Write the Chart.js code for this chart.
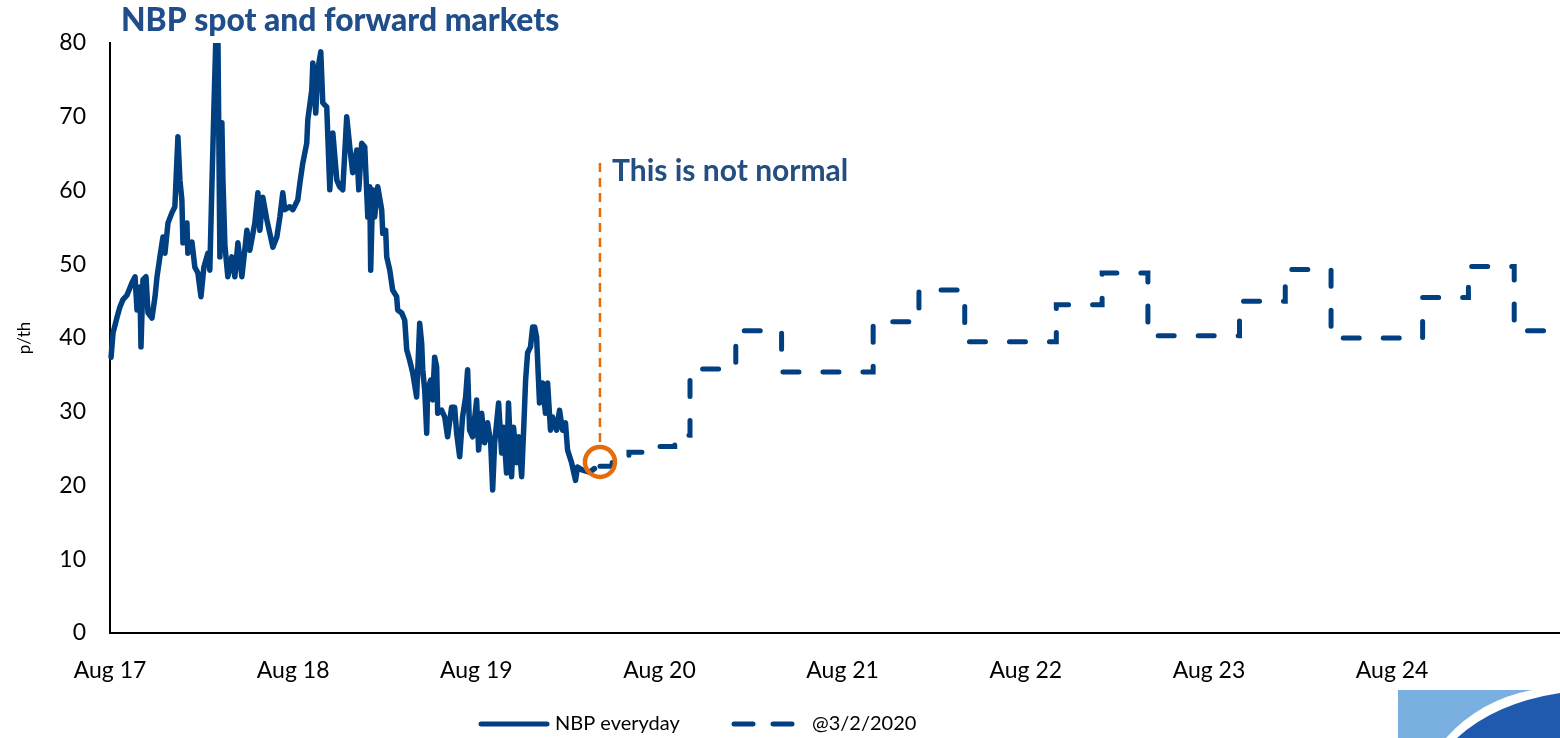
<!DOCTYPE html>
<html>
<head>
<meta charset="utf-8">
<script src="https://cdn.jsdelivr.net/npm/chart.js@4.4.1/dist/chart.umd.min.js"></script>
<style>
html,body{margin:0;padding:0;background:#fff;}
#wrap{position:relative;width:1560px;height:738px;}
</style>
</head>
<body>
<div id="wrap"><canvas id="c" width="1560" height="738"></canvas></div>
<script>
// ---- data (x = months since Aug 2017) ----
const xTickValues = [0, 12, 24, 36, 48, 60, 72, 84];
const xTickLabels = ['Aug 17', 'Aug 18', 'Aug 19', 'Aug 20', 'Aug 21', 'Aug 22', 'Aug 23', 'Aug 24'];
const yTickStep = 10;
const seriesNames = ['NBP everyday', '@3/2/2020'];
const titleText = 'NBP spot and forward markets';
const noteText = 'This is not normal';
const yTitleText = 'p/th';

const spotX = [0.07,0.20,0.46,0.65,0.85,1.11,1.44,1.64,1.77,1.96,2.03,2.16,2.36,2.49,2.75,2.95,3.08,3.27,3.47,3.60,
  3.80,4.06,4.25,4.45,4.58,4.71,4.78,5.04,5.10,5.37,5.56,5.76,5.96,6.15,6.41,6.54,6.68,6.81,6.94,7.07,
  7.20,7.33,7.40,7.53,7.72,7.98,8.18,8.38,8.64,8.97,9.16,9.49,9.69,9.82,10.01,10.28,10.47,10.67,10.93,11.13,
  11.32,11.45,11.78,11.98,12.30,12.44,12.63,12.89,12.96,13.22,13.29,13.48,13.61,13.81,13.94,14.20,14.40,14.60,14.86,15.05,
  15.25,15.51,15.71,15.90,16.17,16.30,16.49,16.69,16.89,17.02,17.08,17.21,17.34,17.54,17.80,17.87,18.06,18.13,18.33,18.52,
  18.78,18.85,19.11,19.31,19.44,19.63,19.83,20.09,20.29,20.42,20.49,20.62,20.75,20.81,21.01,21.14,21.27,21.40,21.47,21.73,
  21.93,22.12,22.38,22.58,22.71,22.91,23.10,23.30,23.43,23.56,23.76,24.02,24.15,24.35,24.54,24.74,24.94,25.07,25.20,25.33,
  25.46,25.66,25.79,25.98,26.11,26.31,26.44,26.64,26.77,26.97,27.10,27.23,27.36,27.55,27.69,27.82,27.95,28.14,28.34,28.53,
  28.67,28.86,28.99,29.26,29.45,29.65,29.84,29.98,30.24,30.50,30.63,30.96,31.42,31.74];
const spotY = [37.4,40.7,42.8,44.2,45.2,45.8,47.5,48.3,43.8,46.9,38.8,47.9,48.3,43.4,42.7,45.6,48.3,51.0,53.7,51.5,
  55.6,57.0,57.8,67.3,61.4,58.7,52.9,55.6,51.5,53.0,49.6,48.8,45.6,49.6,51.5,49.2,61.0,71.3,81.0,81.0,
  51.0,69.2,61.4,52.5,48.3,51.0,48.3,52.9,48.3,54.6,51.9,55.6,59.7,54.6,59.1,56.0,54.2,52.3,53.7,56.4,
  59.7,57.4,57.8,57.4,58.7,61.0,63.7,66.4,69.6,73.6,77.3,70.5,76.3,78.8,71.9,71.3,60.1,67.8,61.4,60.5,
  60.1,70.0,65.9,62.4,65.5,60.1,66.4,65.9,56.4,60.5,49.2,60.1,56.4,60.5,57.4,54.2,54.6,51.0,49.2,46.5,
  45.6,43.8,43.4,42.4,38.4,37.0,35.3,32.0,42.0,39.3,35.7,32.9,27.1,32.9,34.3,31.6,37.4,36.1,29.8,30.2,
  29.3,26.6,30.6,30.6,27.1,23.9,29.3,32.0,35.7,27.5,26.6,31.6,24.8,29.8,25.8,28.5,25.8,19.4,25.8,28.5,
  31.2,24.4,27.9,21.7,31.2,21.2,27.9,23.1,26.6,21.2,27.5,34.3,38.0,38.8,41.5,41.5,40.1,31.2,33.9,29.8,
  33.9,27.5,29.3,27.5,30.2,27.5,28.5,24.8,23.1,20.7,22.5,22.1,21.8,22.3];

const fwdX = [32.1, 32.9, 34.0, 35.0, 36.0, 37.0, 38.0, 41.0, 44.0, 50.0, 53.0, 56.0, 62.0, 65.0, 68.0, 74.0, 77.0, 80.0, 86.0, 89.0, 92.0, 95.0];
const fwdY = [22.6, 23.5, 24.5, 24.7, 25.3, 26.8, 35.8, 41.0, 35.4, 42.2, 46.5, 39.5, 44.5, 48.8, 40.3, 45.0, 49.3, 40.0, 45.5, 49.7, 41.0, 41.0];

const markerX = [32.1];
const markerY = [23.2];
const guideX = [32.1, 32.1];
const guideY = [25.9, 63.9];

// ---- styles ----
const NAVY = '#003F80';
const ORANGE = '#E46C0A';
const FONT = 'Lato, "Open Sans", sans-serif';

const pts = (xs, ys) => xs.map((x, i) => ({x: x, y: ys[i]}));

function fitFont(ctx, text, weight, family, target) {
  ctx.font = weight + ' 100px ' + family;
  return 100 * target / ctx.measureText(text).width;
}

const decor = {
  id: 'decor',
  afterDraw(chart) {
    const ctx = chart.ctx;
    ctx.save();
    // title
    let fs = fitFont(ctx, titleText, '900', FONT, 438);
    ctx.font = '900 ' + fs.toFixed(1) + 'px ' + FONT;
    ctx.fillStyle = '#1F4E8A';
    ctx.textAlign = 'left';
    ctx.textBaseline = 'alphabetic';
    ctx.fillText(titleText, 121, 31);
    // note
    fs = fitFont(ctx, noteText, 'bold', FONT, 236);
    ctx.font = 'bold ' + fs.toFixed(1) + 'px ' + FONT;
    ctx.fillStyle = '#244E80';
    ctx.fillText(noteText, 612, 181);

    // legend
    const ly = 724;
    ctx.lineCap = 'round';
    ctx.strokeStyle = NAVY;
    ctx.lineWidth = 5;
    ctx.setLineDash([]);
    ctx.beginPath(); ctx.moveTo(481, ly); ctx.lineTo(547, ly); ctx.stroke();
    ctx.setLineDash([19, 20]);
    ctx.beginPath(); ctx.moveTo(734, ly); ctx.lineTo(792, ly); ctx.stroke();
    ctx.setLineDash([]);
    ctx.font = '20px ' + FONT;
    ctx.fillStyle = '#000';
    ctx.textBaseline = 'middle';
    ctx.fillText(seriesNames[0], 555, ly);
    ctx.fillText(seriesNames[1], 812, ly);

    // corner logo
    ctx.fillStyle = '#7AB0E0';
    ctx.fillRect(1398, 690, 162, 48);
    ctx.fillStyle = '#FFFFFF';
    ctx.beginPath();
    ctx.moveTo(1446, 738);
    ctx.quadraticCurveTo(1480, 700, 1532, 690);
    ctx.lineTo(1560, 690);
    ctx.lineTo(1560, 738);
    ctx.closePath();
    ctx.fill();
    ctx.fillStyle = '#1F5AAE';
    ctx.beginPath();
    ctx.moveTo(1457, 738);
    ctx.quadraticCurveTo(1495, 703, 1560, 693);
    ctx.lineTo(1560, 738);
    ctx.closePath();
    ctx.fill();
    ctx.restore();
  }
};

new Chart(document.getElementById('c'), {
  type: 'line',
  data: {
    datasets: [
      {
        label: 'marker', data: pts(markerX, markerY), showLine: false,
        pointRadius: 15, pointBorderWidth: 4.5, pointBorderColor: ORANGE,
        pointBackgroundColor: 'rgba(0,0,0,0)', order: 0
      },
      {
        label: 'guide', data: pts(guideX, guideY), borderColor: ORANGE, borderWidth: 2.5,
        borderDash: [9, 6], pointRadius: 0, order: 1
      },
      {
        label: seriesNames[0], data: pts(spotX, spotY), borderColor: NAVY, borderWidth: 5.5,
        pointRadius: 0, tension: 0, borderJoinStyle: 'round', borderCapStyle: 'round',
        clip: {left: 5, top: 0, right: 5, bottom: 5}, order: 2
      },
      {
        label: seriesNames[1], data: pts(fwdX, fwdY), borderColor: NAVY, borderWidth: 5,
        pointRadius: 0, stepped: true, borderDash: [16, 24], borderCapStyle: 'round', order: 3
      }
    ]
  },
  options: {
    responsive: false,
    animation: false,
    devicePixelRatio: 1,
    layout: {autoPadding: false, padding: {top: 43, right: 0, bottom: 0, left: 0}},
    plugins: {legend: {display: false}, tooltip: {enabled: false}, title: {display: false}},
    scales: {
      x: {
        type: 'linear', min: 0, max: 95,
        grid: {display: false, drawTicks: false},
        border: {display: true, color: '#000', width: 2},
        afterBuildTicks: (s) => { s.ticks = xTickValues.map(v => ({value: v})); },
        afterFit: (s) => { s.height = 105; s.paddingRight = 0; s.paddingLeft = 0; },
        ticks: {
          autoSkip: false, maxRotation: 0, padding: 24, color: '#000',
          font: {family: FONT, size: 23},
          callback: (v) => xTickLabels[xTickValues.indexOf(v)]
        }
      },
      y: {
        min: 0, max: 80,
        grid: {display: false, drawTicks: false},
        border: {display: true, color: '#000', width: 2},
        afterFit: (s) => { s.width = 110; },
        ticks: {stepSize: yTickStep, padding: 24, color: '#000', font: {family: FONT, size: 23}},
        title: {display: true, text: yTitleText, color: '#000', font: {family: FONT, size: 17}, padding: {top: 14, bottom: 0}}
      }
    }
  },
  plugins: [decor]
});
</script>
</body>
</html>
